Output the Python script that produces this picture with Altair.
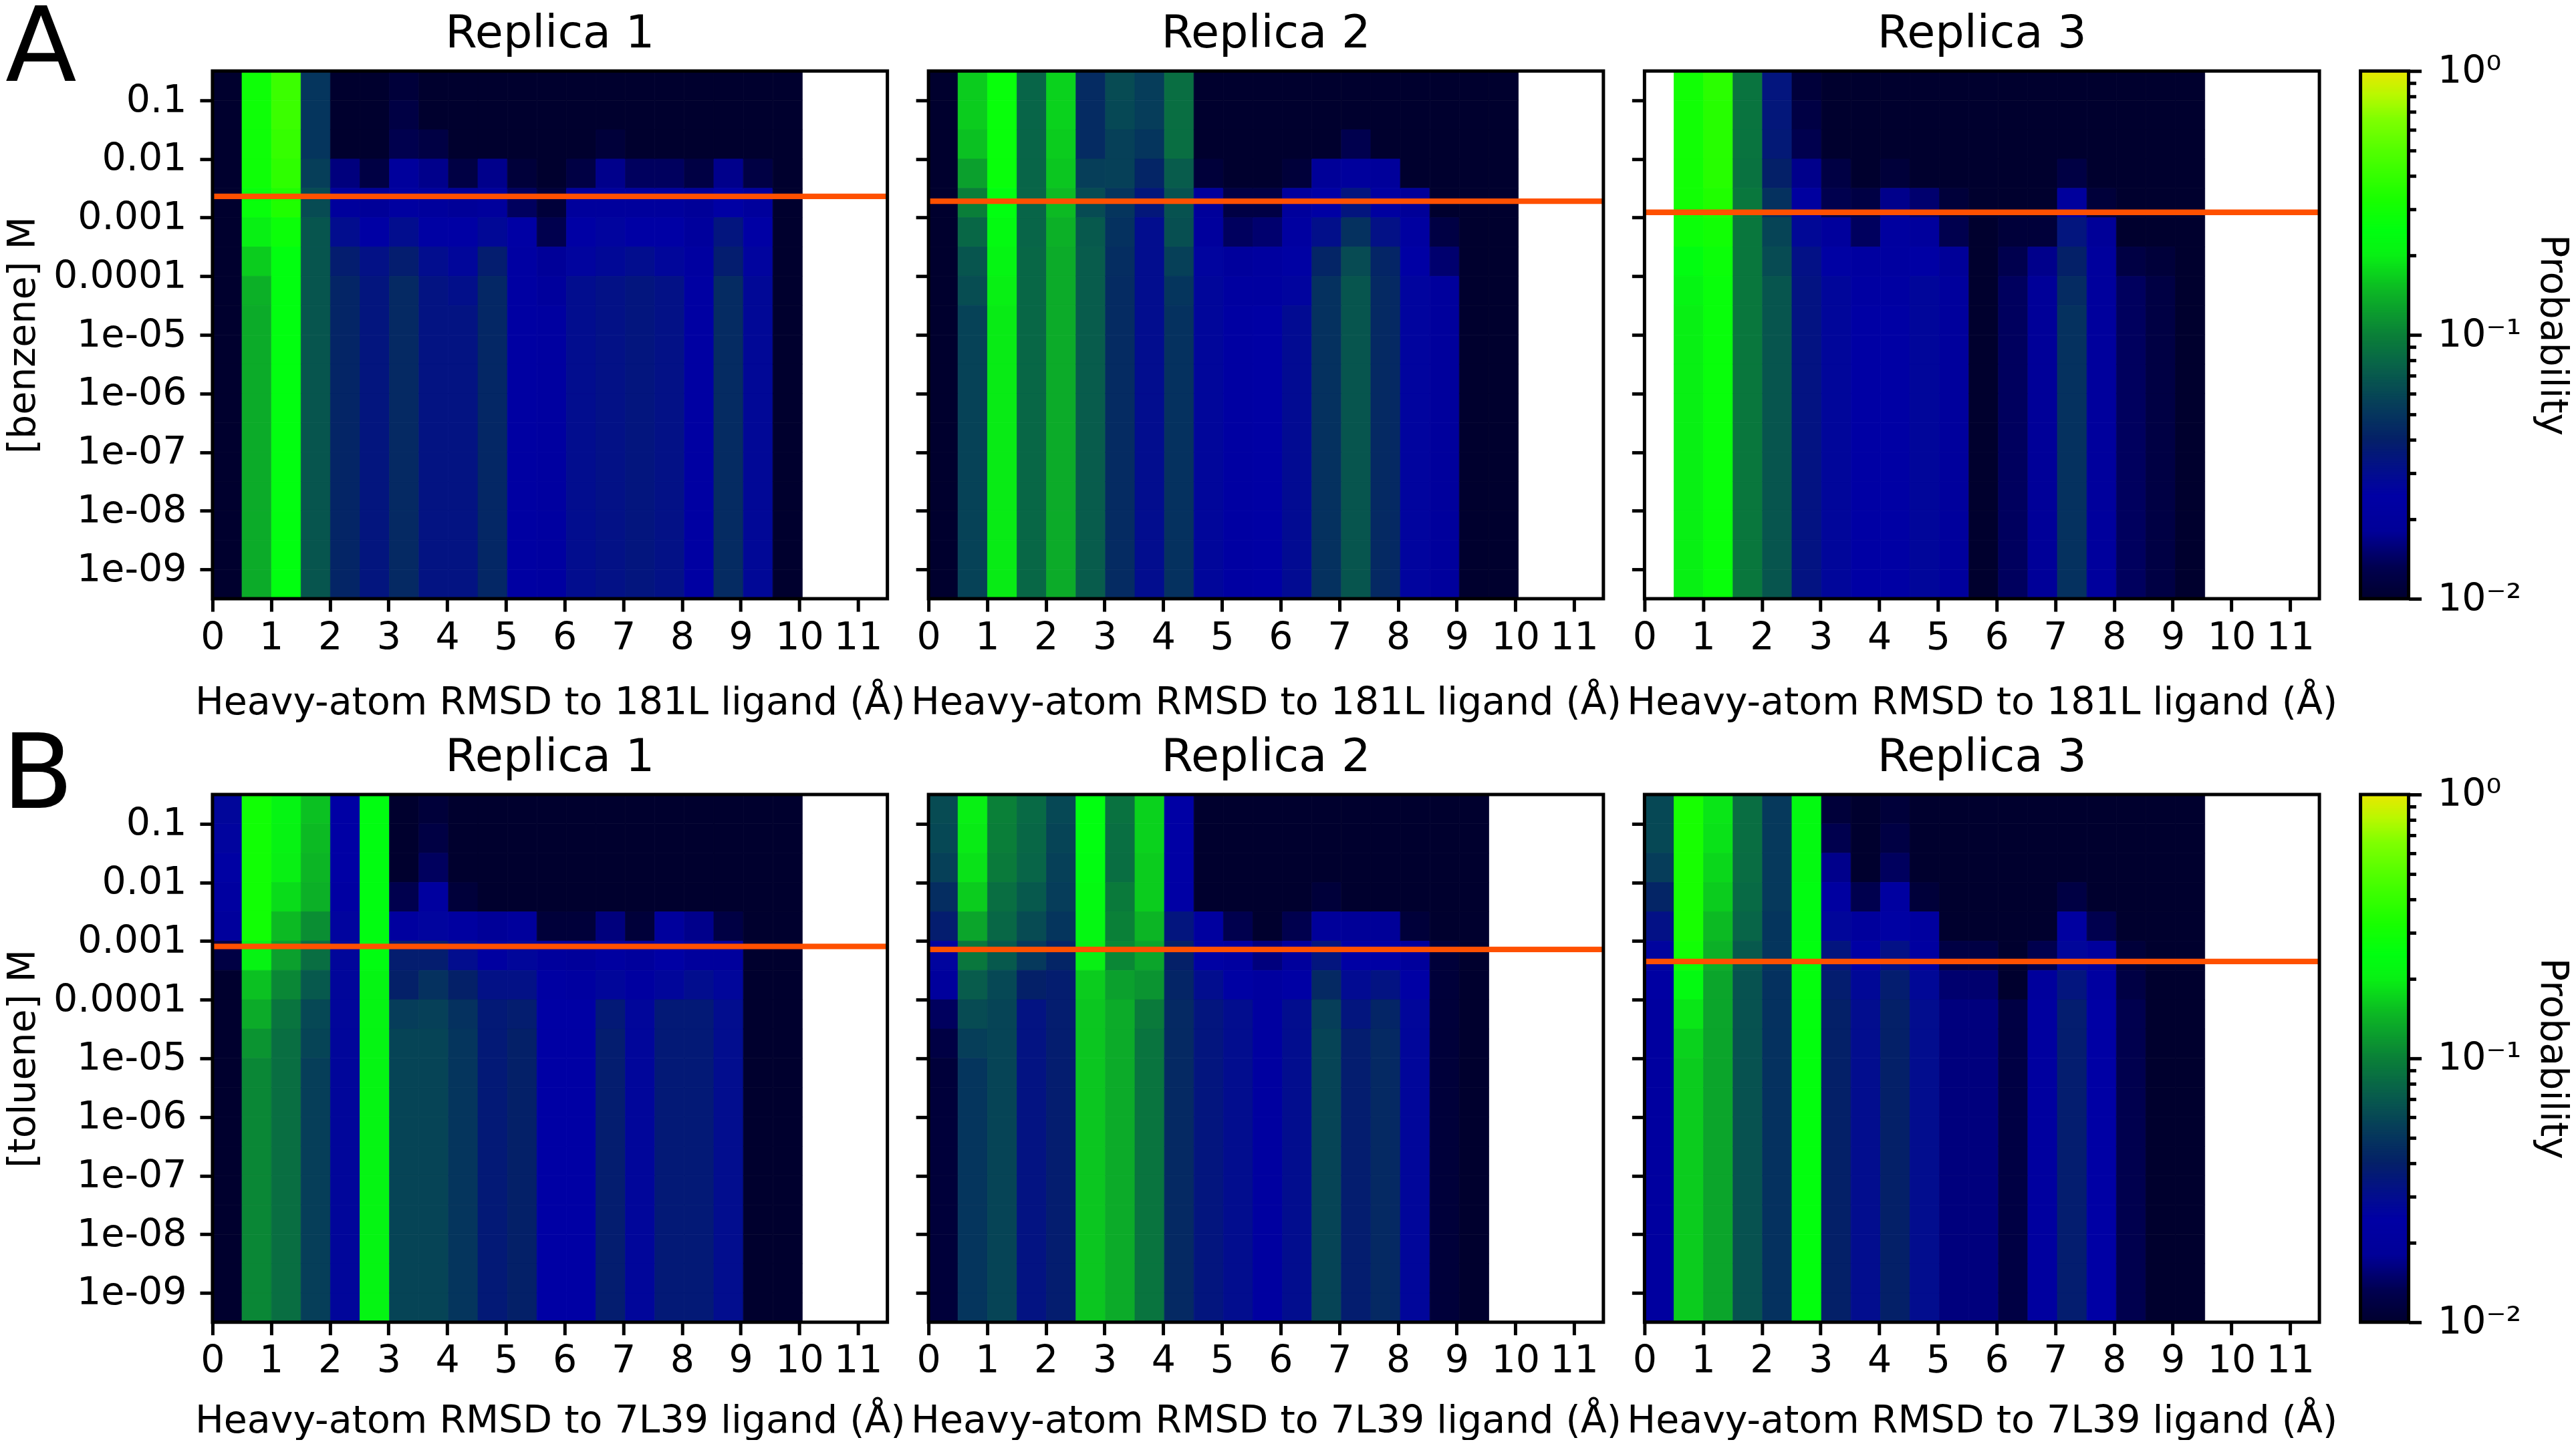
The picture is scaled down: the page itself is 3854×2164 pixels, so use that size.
import altair as alt
import pandas as pd

FONT = "DejaVu Sans"
W, H = 1010, 790

# Probability per column (x bin), x 1000, listed top row to lower rows; the last value holds down to the bottom row.
A1 = [[10],[290,290,290,290,270,200,165,140,135],[420,420,400,380,340,280,250],[50,50,50,55,62,68],
      [10,10,10,16,20,30,38,42],[10,10,10,12,18,24,32,34],[11,12,13,20,22,30,38,44],[10,10,12,17,20,25,30,33],
      [10,10,10,12,18,24,27,31,33],[10,10,10,17,20,28,38,43],[10,10,10,11,14,24,23],[10,10,10,10,11,13,18,20,22],
      [10,10,10,12,20,24,26,30],[10,10,11,17,20,26,28,32],[10,10,10,14,20,24,30,34],[10,10,10,14,20,24,27,32],
      [10,10,10,12,18,20,22,23],[10,10,10,17,24,34,38,45],[10,10,10,12,20,24,26,28],[10]]
A2 = [[10],[165,165,155,125,98,80,68,63,57],[270,270,270,270,250,230,215,200,195],[78,78,78,78,78,78,80],
      [170,170,165,160,150,140,135],[45,45,45,55,62,70,72],[62,60,56,56,50,48,46,45],[54,54,50,42,35,30],
      [85,85,85,72,66,64,56,50,48],[10,10,10,11,19,20,26,27],[10,10,10,10,12,14,20,22,23],[10,10,10,10,12,15,21,22,24],
      [10,10,10,11,20,22,25,26,29],[10,10,10,18,24,31,42,48],[10,10,13,20,34,48,62,68],[10,10,10,19,22,32,42,44],
      [10,10,10,10,18,22,24,26],[10,10,10,10,10,12,15,20],[10],[10]]
A3 = [[],[300,300,300,300,300,280,240,215,200],[370,360,360,360,340,300,280,270],[90,90,90,88,92],
      [34,35,36,40,48,58,62,68],[11,12,13,17,21,28,32,33],[10,10,10,12,13,20,25,27],[10,10,10,10,12,14,22,23,24],
      [10,10,10,11,17,21,22,23,24],[10,10,10,10,15,20,24,27],[10,10,10,10,11,13,18,20],[10],
      [10,10,10,10,10,11,13,14],[10,10,10,10,10,11,17,18],[10,10,10,12,20,34,40,45,48],[10,10,10,10,11,18,20],
      [10,10,10,10,10,10,12,14],[10,10,10,10,10,10,11,12],[10]]
B1 = [[27,26,25,22,20,12,10],[300,300,300,300,300,210,155,135,115,105],[215,210,200,180,150,125,105,90,85],
      [155,150,145,140,110,85,70,60,58,55],[24,24,24,23,26,27],[240,240,240,240,240,240,215],[10,10,10,13,21,38,40,54,58],
      [11,12,14,21,26,38,48,56,58],[10,10,10,11,22,30,40,48,50],[10,10,10,10,18,22,32,36],[10,10,10,10,20,27,32,38,40],
      [10,10,10,10,11,20,23,24],[10,10,10,10,11,19,22,24],[10,10,10,10,16,22,27,36,38],[10,10,10,10,11,20,22,27],
      [10,10,10,10,20,24,27,36],[10,10,10,10,17,20,30,36],[10,10,10,10,12,20,27,30],[10],[10]]
B2 = [[62,60,56,46,38,26,20,14,12,11],[200,195,185,165,130,92,72,62,55,50],[100,98,95,85,80,70,60,58],
      [82,80,78,70,62,52,40,33],[60,58,56,54,50,42,38],[250,250,240,230,225,200,165,160],[88,86,85,95,100,105,125,135],
      [170,170,165,165,145,130,115,95,90],[24,24,24,24,34,40,42,44],[10,10,10,10,21,25,30,34],[10,10,10,10,13,22,25,30],
      [10,10,10,10,10,16,21,22],[10,10,10,10,13,20,24,30],[10,10,10,11,19,34,44,55,58],[10,10,10,10,18,24,29,34,38],
      [10,10,10,10,18,24,33,42,44],[10,10,10,10,11,20,24,27],[10,10,10,10,10,11],[10]]
B3 = [[60,60,54,42,32,26,23,21],[320,320,320,320,320,300,230,190,170,165],[190,185,175,165,150,140,130],
      [85,85,84,82,78,70,66],[52,52,52,52,50,50,48],[230,230,230,240,240,250,260,255],[11,13,17,22,27,34,38,40],
      [10,10,10,13,20,24,28,30],[11,12,14,22,25,32,38,40],[10,10,10,11,21,22,28,30],[10,10,10,10,10,12,15,16],
      [10,10,10,10,10,12,15,16],[10,10,10,10,10,10,10,12],[10,10,10,10,10,13,20,21],[10,10,10,12,22,27,34,38],
      [10,10,10,10,13,20,22,24],[10,10,10,10,10,11,12,13],[10],[10]]

RULES = [[0.0023, 0.0019, 0.00123], [0.00081, 0.00072, 0.00045]]
PANELS = [[A1, A2, A3], [B1, B2, B3]]
YTITLES = ["[benzene] M", "[toluene] M"]
XTITLES = ["Heavy-atom RMSD to 181L ligand (Å)", "Heavy-atom RMSD to 7L39 ligand (Å)"]
XTITLE_PAD = [41, 34]
REPLICAS = ["Replica 1", "Replica 2", "Replica 3"]
LETTERS = [("A", -310, 15), ("B", -315, 20)]
XTICKS = list(range(12))
YTICKS = [1e-9, 1e-8, 1e-7, 1e-6, 1e-5, 1e-4, 1e-3, 1e-2, 1e-1]
BIN_W = 0.5025
N_ROWS = 18

CMAP_P = [0.01, 0.0132, 0.018, 0.0245, 0.0296, 0.04, 0.056, 0.0776, 0.1, 0.148, 0.2, 0.248, 0.324, 0.49, 0.66, 0.81, 1.0]
CMAP_C = ["#00002e", "#000050", "#000098", "#0000a5", "#020c90", "#042068", "#064058", "#086448", "#0a8038",
          "#0cb824", "#08f014", "#00ff10", "#18ff00", "#50ff00", "#80ff00", "#b8f800", "#e8e800"]
CB_MINOR = [0.02, 0.03, 0.04, 0.05, 0.06, 0.07, 0.08, 0.09, 0.2, 0.3, 0.4, 0.5, 0.6, 0.7, 0.8, 0.9]
CB_MAJOR = [0.01, 0.1, 1.0]

color_scale = alt.Scale(type="log", domain=CMAP_P, range=CMAP_C, interpolate="rgb", clamp=True)
blank = alt.Data(values=[{"a": 1}])


def table(cols):
    rows = []
    for c, col in enumerate(cols):
        for r in range(N_ROWS if col else 0):
            rows.append({
                "x0": c * BIN_W, "x1": (c + 1) * BIN_W,
                "y0": 10 ** (-1.0 - 0.5 * r), "y1": 10 ** (-0.5 - 0.5 * r),
                "p": col[min(r, len(col) - 1)] / 1000,
            })
    return pd.DataFrame(rows)


def frame(width, height):
    return alt.Chart(blank).mark_rect(fill=None, stroke="black", strokeWidth=5).encode(
        x=alt.value(0), x2=alt.value(width), y=alt.value(0), y2=alt.value(height))


def label(text, x, y, size, align):
    return alt.Chart(blank).mark_text(
        text=text, font=FONT, fontSize=size, align=align, baseline="alphabetic", color="black"
    ).encode(x=alt.value(x), y=alt.value(y))


def panel(row, col):
    xs = alt.Scale(domain=[0, 11.5], nice=False, zero=False)
    ys = alt.Scale(type="log", domain=[10 ** -9.5, 10 ** -0.5], nice=False)
    yaxis = alt.Axis(
        values=YTICKS, title=YTITLES[row] if col == 0 else None, labels=col == 0, titlePadding=16,
        labelExpr="datum.value > 0.00005 ? format(datum.value, '.4~f') : '1e-0' + round(-log(datum.value) / LN10)",
    )
    xaxis = alt.Axis(values=XTICKS, title=XTITLES[row], format="d", labelAngle=0, labelPadding=11,
                     titlePadding=XTITLE_PAD[row])
    heat = alt.Chart(table(PANELS[row][col])).mark_rect(strokeWidth=0.8).encode(
        x=alt.X("x0:Q", scale=xs, axis=xaxis), x2="x1:Q",
        y=alt.Y("y0:Q", scale=ys, axis=yaxis), y2="y1:Q",
        fill=alt.Fill("p:Q", scale=color_scale, legend=None),
        stroke=alt.Stroke("p:Q", scale=color_scale, legend=None),
    )
    rule = alt.Chart(pd.DataFrame({"c": [RULES[row][col]]})).mark_rule(color="#ff5000", strokeWidth=8.3).encode(
        y=alt.Y("c:Q", scale=ys, axis=yaxis))
    layers = [heat, rule, frame(W, H), label(REPLICAS[col], W / 2, -35, 68.5, "center")]
    if col == 0:
        letter, lx, ly = LETTERS[row]
        layers.append(label(letter, lx, ly, 156, "left"))
    return alt.layer(*layers).properties(width=W, height=H)


def colorbar():
    n = 300
    rows = [{"lo": 10 ** (-2 + 2 * i / n), "hi": 10 ** (-2 + 2 * (i + 1.5) / n), "p": 10 ** (-2 + 2 * (i + 0.5) / n)}
            for i in range(n)]
    ys = alt.Scale(type="log", domain=[0.01, 1], nice=False, clamp=True)
    axis = alt.Axis(
        orient="right", values=CB_MAJOR + CB_MINOR, title="Probability", titleAngle=90, titlePadding=18,
        tickSize={"condition": {"test": "datum.value == 1 || datum.value == 0.1 || datum.value == 0.01", "value": 19},
                  "value": 11},
        labelPadding=24, labelAlign="left",
        labelExpr="datum.value == 1 ? '10⁰' : datum.value == 0.1 ? '10⁻¹' : datum.value == 0.01 ? '10⁻²' : ''",
    )
    bar = alt.Chart(pd.DataFrame(rows)).mark_rect().encode(
        x=alt.value(0), x2=alt.value(72),
        y=alt.Y("lo:Q", scale=ys, axis=axis), y2="hi:Q",
        fill=alt.Fill("p:Q", scale=color_scale, legend=None),
    )
    return alt.layer(bar, frame(72, H)).properties(width=72, height=H)


cells = []
for r in range(2):
    cells += [panel(r, c) for c in range(3)] + [colorbar()]

chart = alt.concat(*cells, columns=4, spacing={"row": 293, "column": 61.5}, bounds="flush").configure_view(stroke=None).configure_axis(
    labelFont=FONT, titleFont=FONT, labelFontSize=57, titleFontSize=57, titleFontWeight="normal",
    labelColor="black", titleColor="black", tickColor="black", tickWidth=5, tickSize=19, domain=False, grid=False,
    labelPadding=20, labelOverlap=False, labelBound=False, labelFlush=False, labelLimit=800, titleLimit=1500,
    maxExtent=500,
).properties(padding={"left": -5, "top": -12, "right": -2, "bottom": 0})

chart.save("out.html", embed_options={"renderer": "svg", "actions": False})
